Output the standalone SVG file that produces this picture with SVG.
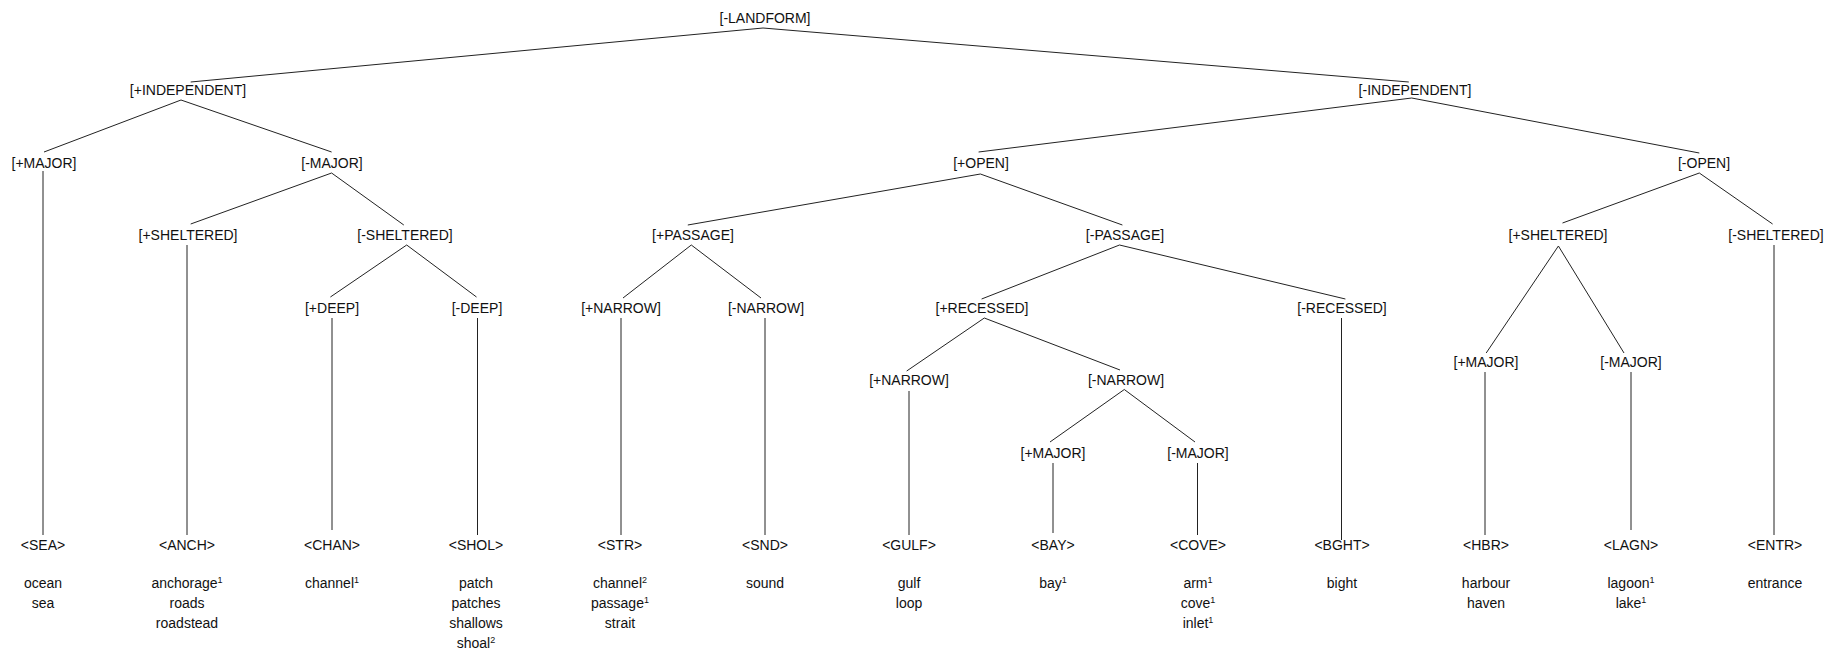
<svg xmlns="http://www.w3.org/2000/svg" width="1837" height="650" viewBox="0 0 1837 650">
<style>
text{font-family:"Liberation Sans",Arial,sans-serif;font-size:14px;fill:#111;text-anchor:middle}
.sup{font-size:9px}
#connectors line{stroke:#222;stroke-width:1;fill:none}
</style>
<rect width="1837" height="650" fill="#fff"/>
<g id="connectors">
<line x1="763" y1="28" x2="190.7" y2="82"/>
<line x1="763" y1="28" x2="1408.8" y2="82"/>
<line x1="181" y1="100" x2="44" y2="152"/>
<line x1="181" y1="100" x2="331.6" y2="152"/>
<line x1="331.6" y1="173" x2="190.7" y2="224"/>
<line x1="331.6" y1="173" x2="403.8" y2="225"/>
<line x1="406.7" y1="245" x2="330.4" y2="297"/>
<line x1="406.7" y1="245" x2="476.5" y2="297"/>
<line x1="1411.7" y1="98" x2="978.6" y2="152"/>
<line x1="1411.7" y1="98" x2="1699.3" y2="153"/>
<line x1="980.4" y1="174" x2="687.8" y2="225"/>
<line x1="980.4" y1="174" x2="1122.4" y2="225"/>
<line x1="691.3" y1="245" x2="623" y2="298"/>
<line x1="691.3" y1="245" x2="761" y2="298"/>
<line x1="1119.5" y1="245" x2="981.6" y2="299"/>
<line x1="1119.5" y1="245" x2="1345.4" y2="299"/>
<line x1="984.3" y1="318" x2="906.7" y2="371"/>
<line x1="984.3" y1="318" x2="1120" y2="370"/>
<line x1="1124.3" y1="389.5" x2="1050" y2="442"/>
<line x1="1124.3" y1="389.5" x2="1195" y2="442"/>
<line x1="1699.3" y1="173" x2="1562.5" y2="223"/>
<line x1="1699.3" y1="173" x2="1772.6" y2="224"/>
<line x1="1558.4" y1="246" x2="1486.2" y2="353"/>
<line x1="1558.4" y1="246" x2="1624" y2="353"/>
<line x1="43" y1="171" x2="43" y2="535"/>
<line x1="187" y1="245" x2="187" y2="535"/>
<line x1="332" y1="318" x2="332" y2="530"/>
<line x1="477.5" y1="318" x2="477.5" y2="535"/>
<line x1="621" y1="318" x2="621" y2="535"/>
<line x1="765" y1="318" x2="765" y2="535"/>
<line x1="909" y1="391" x2="909" y2="535"/>
<line x1="1053" y1="463" x2="1053" y2="533"/>
<line x1="1197.5" y1="463" x2="1197.5" y2="535"/>
<line x1="1341.5" y1="318" x2="1341.5" y2="540"/>
<line x1="1485" y1="372" x2="1485" y2="535"/>
<line x1="1631" y1="372" x2="1631" y2="530"/>
<line x1="1774" y1="245" x2="1774" y2="535"/>
</g>
<g id="n-landform"><text x="765" y="22.5">[-LANDFORM]</text></g>
<g id="n-indep-plus"><text x="188" y="95">[+INDEPENDENT]</text></g>
<g id="n-indep-minus"><text x="1415" y="95">[-INDEPENDENT]</text></g>
<g id="n-major-sea"><text x="44" y="167.5">[+MAJOR]</text></g>
<g id="n-major-minus"><text x="332" y="167.5">[-MAJOR]</text></g>
<g id="n-open-plus"><text x="981" y="167.5">[+OPEN]</text></g>
<g id="n-open-minus"><text x="1704" y="167.5">[-OPEN]</text></g>
<g id="n-shel-plus-l"><text x="188" y="240">[+SHELTERED]</text></g>
<g id="n-shel-minus-l"><text x="405" y="240">[-SHELTERED]</text></g>
<g id="n-passage-plus"><text x="693" y="240">[+PASSAGE]</text></g>
<g id="n-passage-minus"><text x="1125" y="240">[-PASSAGE]</text></g>
<g id="n-shel-plus-r"><text x="1558" y="240">[+SHELTERED]</text></g>
<g id="n-shel-minus-r"><text x="1776" y="240">[-SHELTERED]</text></g>
<g id="n-deep-plus"><text x="332" y="312.5">[+DEEP]</text></g>
<g id="n-deep-minus"><text x="477" y="312.5">[-DEEP]</text></g>
<g id="n-narrow-plus-str"><text x="621" y="312.5">[+NARROW]</text></g>
<g id="n-narrow-minus-snd"><text x="766" y="312.5">[-NARROW]</text></g>
<g id="n-recessed-plus"><text x="982" y="312.5">[+RECESSED]</text></g>
<g id="n-recessed-minus"><text x="1342" y="312.5">[-RECESSED]</text></g>
<g id="n-narrow-plus-gulf"><text x="909" y="385">[+NARROW]</text></g>
<g id="n-narrow-minus"><text x="1126" y="385">[-NARROW]</text></g>
<g id="n-major-bay"><text x="1053" y="457.5">[+MAJOR]</text></g>
<g id="n-major-cove"><text x="1198" y="457.5">[-MAJOR]</text></g>
<g id="n-major-hbr"><text x="1486" y="367">[+MAJOR]</text></g>
<g id="n-major-lagn"><text x="1631" y="367">[-MAJOR]</text></g>
<g id="leaf-sea"><text x="43" y="550">&lt;SEA&gt;</text><text x="43" y="588">ocean</text><text x="43" y="608">sea</text></g>
<g id="leaf-anch"><text x="187" y="550">&lt;ANCH&gt;</text><text x="187" y="588">anchorage<tspan class="sup" dy="-5">1</tspan></text><text x="187" y="608">roads</text><text x="187" y="628">roadstead</text></g>
<g id="leaf-chan"><text x="332" y="550">&lt;CHAN&gt;</text><text x="332" y="588">channel<tspan class="sup" dy="-5">1</tspan></text></g>
<g id="leaf-shol"><text x="476" y="550">&lt;SHOL&gt;</text><text x="476" y="588">patch</text><text x="476" y="608">patches</text><text x="476" y="628">shallows</text><text x="476" y="648">shoal<tspan class="sup" dy="-5">2</tspan></text></g>
<g id="leaf-str"><text x="620" y="550">&lt;STR&gt;</text><text x="620" y="588">channel<tspan class="sup" dy="-5">2</tspan></text><text x="620" y="608">passage<tspan class="sup" dy="-5">1</tspan></text><text x="620" y="628">strait</text></g>
<g id="leaf-snd"><text x="765" y="550">&lt;SND&gt;</text><text x="765" y="588">sound</text></g>
<g id="leaf-gulf"><text x="909" y="550">&lt;GULF&gt;</text><text x="909" y="588">gulf</text><text x="909" y="608">loop</text></g>
<g id="leaf-bay"><text x="1053" y="550">&lt;BAY&gt;</text><text x="1053" y="588">bay<tspan class="sup" dy="-5">1</tspan></text></g>
<g id="leaf-cove"><text x="1198" y="550">&lt;COVE&gt;</text><text x="1198" y="588">arm<tspan class="sup" dy="-5">1</tspan></text><text x="1198" y="608">cove<tspan class="sup" dy="-5">1</tspan></text><text x="1198" y="628">inlet<tspan class="sup" dy="-5">1</tspan></text></g>
<g id="leaf-bght"><text x="1342" y="550">&lt;BGHT&gt;</text><text x="1342" y="588">bight</text></g>
<g id="leaf-hbr"><text x="1486" y="550">&lt;HBR&gt;</text><text x="1486" y="588">harbour</text><text x="1486" y="608">haven</text></g>
<g id="leaf-lagn"><text x="1631" y="550">&lt;LAGN&gt;</text><text x="1631" y="588">lagoon<tspan class="sup" dy="-5">1</tspan></text><text x="1631" y="608">lake<tspan class="sup" dy="-5">1</tspan></text></g>
<g id="leaf-entr"><text x="1775" y="550">&lt;ENTR&gt;</text><text x="1775" y="588">entrance</text></g>
</svg>
